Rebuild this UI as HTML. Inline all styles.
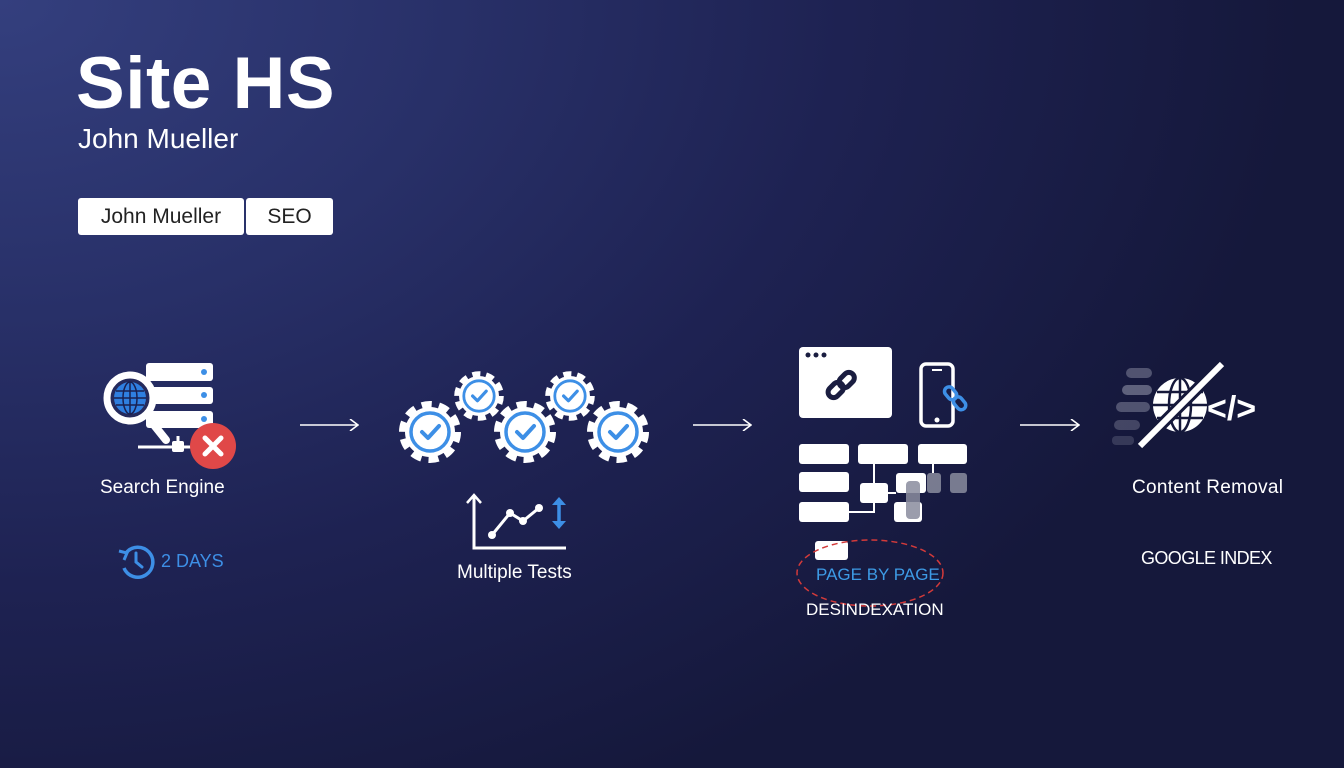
<!DOCTYPE html>
<html><head><meta charset="utf-8"><style>
html,body{margin:0;padding:0;width:1344px;height:768px;overflow:hidden}
body{background:radial-gradient(ellipse 1300px 900px at 0px 0px,#343f7e 0%,#283068 35%,#1e2252 65%,#15183b 100%);font-family:"Liberation Sans",sans-serif;color:#fff;position:relative}
.t{position:absolute;white-space:nowrap}
</style></head><body>
<div class="t" style="left:76px;top:42px;font-size:73px;font-weight:bold;letter-spacing:0.5px">Site HS</div>
<div class="t" style="left:78px;top:123px;font-size:28px">John Mueller</div>
<div class="t" style="left:78px;top:198px;width:166px;height:37px;background:#fff;border-radius:3px;color:#222;font-size:21px;text-align:center;line-height:37px">John Mueller</div>
<div class="t" style="left:246px;top:198px;width:87px;height:37px;background:#fff;border-radius:3px;color:#222;font-size:21px;text-align:center;line-height:37px">SEO</div>

<svg width="1344" height="768" style="position:absolute;left:0;top:0">
<defs>
<g id="gear"><circle r="25" fill="#fff"/><circle r="26" fill="none" stroke="#fff" stroke-width="10" stroke-dasharray="9.5 6.85"/><circle r="19" fill="#fff" stroke="#3d8fe6" stroke-width="3.5"/><path d="M-8 0 L-2 6 L9 -6" fill="none" stroke="#3d8fe6" stroke-width="4" stroke-linecap="round" stroke-linejoin="round"/></g>
<marker id="ah" markerWidth="10" markerHeight="12" refX="9" refY="6" orient="auto" markerUnits="userSpaceOnUse"><path d="M1 0 L9 6 L1 12" fill="none" stroke="#fff" stroke-width="1.6"/></marker>
</defs>
<g stroke="#fff" stroke-width="1.6" marker-end="url(#ah)"><line x1="300" y1="425" x2="358" y2="425"/><line x1="693" y1="425" x2="751" y2="425"/><line x1="1020" y1="425" x2="1079" y2="425"/></g>

<g fill="#fff"><rect x="146" y="363" width="67" height="18" rx="3"/><rect x="146" y="387" width="67" height="17" rx="3"/><rect x="146" y="411" width="67" height="17" rx="3"/></g>
<g fill="#3d8fe6"><circle cx="204" cy="372" r="3"/><circle cx="204" cy="395" r="3"/><circle cx="204" cy="419" r="3"/></g>
<line x1="150" y1="420" x2="166" y2="440" stroke="#fff" stroke-width="8" stroke-linecap="round"/>
<circle cx="130" cy="398" r="23" fill="#252a5c" stroke="#fff" stroke-width="7"/>
<circle cx="130" cy="398" r="16" fill="#2f7fe0"/>
<g stroke="#1a2050" stroke-width="1.5" fill="none"><ellipse cx="130" cy="398" rx="7" ry="16"/><line x1="114" y1="398" x2="146" y2="398"/><line x1="130" y1="382" x2="130" y2="414"/><line x1="116" y1="391" x2="144" y2="391"/><line x1="116" y1="405" x2="144" y2="405"/></g>
<line x1="138" y1="447" x2="200" y2="447" stroke="#fff" stroke-width="3"/><line x1="178" y1="436" x2="178" y2="447" stroke="#fff" stroke-width="3"/><rect x="172" y="441" width="12" height="11" rx="2" fill="#fff"/>
<circle cx="213" cy="446" r="23" fill="#e04848"/>
<path d="M205 438 L221 454 M221 438 L205 454" stroke="#fff" stroke-width="5" stroke-linecap="round"/>
<path d="M126 553 A15 15 0 1 1 124 568" fill="none" stroke="#3d8fe6" stroke-width="3.5"/>
<path d="M119 551 L127 553 L124 560" fill="none" stroke="#3d8fe6" stroke-width="3"/>
<path d="M136 553 L136 562 L142 567" fill="none" stroke="#3d8fe6" stroke-width="3" stroke-linecap="round"/>

<use href="#gear" transform="translate(479,396) scale(0.8)"/>
<use href="#gear" transform="translate(570,396) scale(0.8)"/>
<use href="#gear" transform="translate(430,432)"/>
<use href="#gear" transform="translate(525,432)"/>
<use href="#gear" transform="translate(618,432)"/>
<path d="M474 496 L474 548 L566 548" fill="none" stroke="#fff" stroke-width="3"/>
<path d="M467 503 L474 495 L481 503" fill="none" stroke="#fff" stroke-width="2.5"/>
<path d="M492 535 L510 513 L523 521 L539 508" fill="none" stroke="#fff" stroke-width="3"/>
<g fill="#fff"><circle cx="492" cy="535" r="4"/><circle cx="510" cy="513" r="4"/><circle cx="523" cy="521" r="4"/><circle cx="539" cy="508" r="4"/></g>
<path d="M559 500 L559 526" stroke="#3d8fe6" stroke-width="3.5"/><path d="M552 505 L559 497 L566 505 Z M552 521 L559 529 L566 521 Z" fill="#3d8fe6"/>

<rect x="799" y="347" width="93" height="71" rx="4" fill="#fff"/>
<g fill="#1a1d40"><circle cx="808" cy="355" r="2.5"/><circle cx="816" cy="355" r="2.5"/><circle cx="824" cy="355" r="2.5"/></g>
<g fill="none" stroke="#1a1d40" stroke-width="5"><rect x="827" y="385" width="17" height="11" rx="5.5" transform="rotate(-45 835 390)"/><rect x="838" y="375" width="17" height="11" rx="5.5" transform="rotate(-45 846 380)"/></g>
<rect x="921" y="364" width="32" height="62" rx="5" fill="none" stroke="#fff" stroke-width="3.5"/>
<line x1="932" y1="370" x2="942" y2="370" stroke="#fff" stroke-width="2"/><circle cx="937" cy="420" r="2.5" fill="#fff"/>
<g fill="none" stroke="#3d8fe6" stroke-width="3.5"><rect x="944" y="389" width="14" height="9" rx="4.5" transform="rotate(50 951 393)"/><rect x="953" y="399" width="14" height="9" rx="4.5" transform="rotate(50 960 403)"/></g>
<g fill="#fff"><rect x="799" y="444" width="50" height="20" rx="3"/><rect x="799" y="472" width="50" height="20" rx="3"/><rect x="799" y="502" width="50" height="20" rx="3"/><rect x="858" y="444" width="50" height="20" rx="3"/><rect x="918" y="444" width="49" height="20" rx="3"/><rect x="860" y="483" width="28" height="20" rx="3"/><rect x="896" y="473" width="30" height="20" rx="3"/><rect x="894" y="502" width="28" height="20" rx="3"/><rect x="815" y="541" width="33" height="19" rx="3"/></g>
<g fill="none" stroke="#fff" stroke-width="2"><path d="M849 512 L874 512 L874 503"/><path d="M874 483 L874 464"/><path d="M888 493 L896 493"/><path d="M933 464 L933 473"/></g>
<g fill="#8a8c9e" opacity="0.85"><rect x="927" y="473" width="14" height="20" rx="3"/><rect x="950" y="473" width="17" height="20" rx="3"/><rect x="906" y="481" width="14" height="38" rx="4"/></g>
<ellipse cx="870" cy="573" rx="73" ry="33" fill="none" stroke="#d33a3a" stroke-width="1.5" stroke-dasharray="6 4"/>

<g fill="#9a9cb0"><rect x="1126" y="368" width="26" height="10" rx="5" opacity="0.45"/><rect x="1122" y="385" width="30" height="10" rx="5" opacity="0.55"/><rect x="1116" y="402" width="34" height="10" rx="5" opacity="0.45"/><rect x="1114" y="420" width="26" height="10" rx="5" opacity="0.35"/><rect x="1112" y="436" width="22" height="9" rx="4" opacity="0.25"/></g>
<circle cx="1180" cy="405" r="27" fill="#fff"/>
<g stroke="#15183a" stroke-width="2.5" fill="none"><ellipse cx="1180" cy="405" rx="11" ry="27"/><line x1="1153" y1="405" x2="1207" y2="405"/><line x1="1180" y1="378" x2="1180" y2="432"/><line x1="1157" y1="392" x2="1203" y2="392"/><line x1="1157" y1="418" x2="1203" y2="418"/></g>
<line x1="1140" y1="446" x2="1222" y2="364" stroke="#15183a" stroke-width="12"/>
<line x1="1140" y1="446" x2="1222" y2="364" stroke="#fff" stroke-width="6"/>
<text x="1207" y="420" font-family="Liberation Sans" font-weight="bold" font-size="34" fill="#fff">&lt;/&gt;</text>
</svg>

<div class="t" style="left:100px;top:477px;font-size:19px">Search Engine</div>
<div class="t" style="left:161px;top:551px;font-size:18px;color:#3d8fe6">2 DAYS</div>
<div class="t" style="left:457px;top:562px;font-size:19px">Multiple Tests</div>
<div class="t" style="left:816px;top:565px;font-size:17px;color:#3d9be6">PAGE BY PAGE</div>
<div class="t" style="left:806px;top:600px;font-size:17px">DESINDEXATION</div>
<div class="t" style="left:1132px;top:477px;font-size:19px;letter-spacing:0.3px">Content Removal</div>
<div class="t" style="left:1141px;top:548px;font-size:18px;letter-spacing:-0.6px">GOOGLE INDEX</div>
</body></html>
